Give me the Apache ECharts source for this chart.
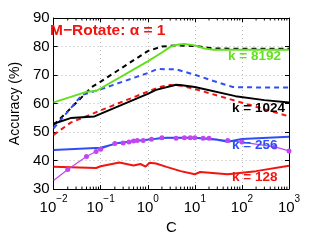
<!DOCTYPE html>
<html><head><meta charset="utf-8">
<script src="https://cdn.jsdelivr.net/npm/echarts@6/dist/echarts.min.js"></script>
<style>html,body{margin:0;padding:0;background:#fff}#c{width:319px;height:240px}</style>
</head><body><div id="c"></div>
<script>
// ---- data (C values and accuracy %) ----
const xTicks = [0.01, 0.1, 1, 10, 100, 1000];
const yTicks = [30, 40, 50, 60, 70, 80, 90];

const C_k8192 = [0.01, 0.05, 0.08, 1, 2, 3, 4.5, 6, 10, 16, 25, 100, 1000];
const acc_k8192 = [60.4, 64.1, 64.4, 74.8, 77.9, 79.9, 80.7, 80.9, 80.4, 79.3, 78.9, 78.9, 78.9];

const C_k8192d = [0.01, 0.02, 0.065, 0.1, 1, 2, 4, 10, 25, 100, 1000];
const acc_k8192d = [52.5, 57.3, 65.8, 67.7, 78.4, 80.0, 80.4, 80.2, 79.3, 79.2, 79.2];

const C_k1024 = [0.01, 0.023, 0.074, 1, 1.5, 4, 5.3, 10, 73, 300, 1000];
const acc_k1024 = [52.9, 54.9, 55.5, 63.4, 64.8, 66.6, 66.4, 65.8, 62.6, 61.2, 60.4];

const C_blueD = [0.01, 0.04, 0.1, 1, 1.6, 4, 10, 25, 64, 100, 1000];
const acc_blueD = [51.3, 63.0, 65.0, 70.7, 72.1, 72.0, 70.1, 67.9, 65.8, 65.7, 65.6];

const C_redD = [0.01, 0.023, 0.1, 1, 2, 3, 5, 10, 100, 1000];
const acc_redD = [49.0, 53.3, 57.6, 64.2, 66.0, 66.5, 66.3, 65.1, 60.3, 55.5];

const C_k256 = [0.01, 0.1, 0.24, 0.6, 2.5, 10, 30, 50, 100, 1000];
const acc_k256 = [43.7, 44.5, 46.2, 47.0, 48.0, 48.0, 47.3, 46.6, 47.6, 48.4];

const C_k128 = [0.01, 0.08, 0.1, 0.25, 0.5, 0.7, 0.9, 1.1, 1.5, 2.5, 5, 10, 13, 50, 200, 1000];
const acc_k128 = [37.8, 37.4, 38.0, 39.3, 38.3, 38.8, 37.9, 39.2, 39.0, 37.8, 36.3, 35.2, 36.0, 35.2, 36.3, 38.2];

const C_purple = [0.01, 0.02, 0.05, 0.08, 0.1, 0.2, 0.3, 0.4, 0.5, 0.6, 0.8, 1.2, 2, 4, 6, 8, 10, 15, 20, 50, 100, 500, 1000];
const acc_purple = [33.0, 36.9, 41.4, 43.2, 44.0, 46.0, 46.2, 46.5, 46.9, 47.0, 47.0, 47.5, 48.0, 47.8, 48.0, 48.0, 48.0, 47.8, 47.8, 47.0, 46.5, 44.8, 43.4];

const minorC = [];
for (let e = -2; e < 3; e++) for (let m = 2; m <= 9; m++) minorC.push(m * Math.pow(10, e));

// ---- chart ----
const zip = (xs, ys) => xs.map((x, i) => [x, ys[i]]);
const FONT = 'Liberation Sans';
const GREEN = '#62e01e', BLUE = '#2f4ff5', RED = '#f2140f', PURPLE = '#c046f2';

const chart = echarts.init(document.getElementById('c'), null, {renderer: 'canvas'});
const lineS = (name, xs, ys, color, dashed, extra) => Object.assign({
  type: 'line', name, data: zip(xs, ys), showSymbol: false, symbol: 'none',
  lineStyle: {color, width: 2, type: dashed ? [5, 4] : 'solid'},
  itemStyle: {color}, animation: false, silent: true
}, extra || {});

const supFmt = v => {
  const e = Math.round(Math.log10(v));
  return '{b|10}{s|' + (e < 0 ? '\u2212' + (-e) : e) + '}';
};

chart.setOption({
  animation: false,
  textStyle: {fontFamily: FONT},
  grid: {left: 42, right: 30, top: 18, bottom: 39},
  xAxis: [{
    type: 'log', logBase: 10, min: 0.01, max: 1000,
    name: 'C', nameLocation: 'middle', nameGap: 20,
    nameTextStyle: {fontSize: 15, color: '#000', fontFamily: FONT},
    axisLine: {lineStyle: {color: '#000', width: 1}},
    axisTick: {inside: true, length: 4, lineStyle: {color: '#000'}},
    splitLine: {show: true, lineStyle: {color: '#b8b8b8', type: [1, 3], width: 1}},
    axisLabel: {
      margin: 4, formatter: supFmt,
      rich: {
        b: {fontSize: 15, color: '#000', fontFamily: FONT, verticalAlign: 'bottom', lineHeight: 22},
        s: {fontSize: 10, color: '#000', fontFamily: FONT, verticalAlign: 'bottom', lineHeight: 10, padding: [0, 0, 11, 0]}
      }
    }
  }, {
    type: 'log', logBase: 10, min: 0.01, max: 1000, position: 'top',
    axisLine: {lineStyle: {color: '#000', width: 1}},
    axisTick: {inside: true, length: 4, lineStyle: {color: '#000'}},
    axisLabel: {show: false}, splitLine: {show: false}
  }],
  yAxis: [{
    type: 'value', min: 30, max: 90, interval: 10,
    name: 'Accuracy (%)', nameLocation: 'middle', nameGap: 26,
    nameTextStyle: {fontSize: 14, color: '#000', fontFamily: FONT},
    axisLine: {show: true, lineStyle: {color: '#000', width: 1}},
    axisTick: {show: true, inside: true, length: 4, lineStyle: {color: '#000'}},
    splitLine: {show: true, lineStyle: {color: '#b8b8b8', type: [1, 3], width: 1}},
    axisLabel: {fontSize: 15, color: '#000', margin: 4, fontFamily: FONT}
  }, {
    type: 'value', min: 30, max: 90, interval: 10, position: 'right',
    axisLine: {show: true, lineStyle: {color: '#000', width: 1}},
    axisTick: {show: true, inside: true, length: 4, lineStyle: {color: '#000'}},
    axisLabel: {show: false}, splitLine: {show: false}
  }],
  series: [
    {
      type: 'custom', silent: true, data: minorC.map(v => [v]),
      renderItem: (params, api) => {
        const v = api.value(0);
        const b = api.coord([v, 30]);
        const t = api.coord([v, 90]);
        return {type: 'group', children: [
          {type: 'line', shape: {x1: b[0], y1: b[1], x2: b[0], y2: b[1] - 2.5}, style: {stroke: '#000', lineWidth: 1}},
          {type: 'line', shape: {x1: t[0], y1: t[1], x2: t[0], y2: t[1] + 2.5}, style: {stroke: '#000', lineWidth: 1}}
        ]};
      }
    },
    lineS('k8192 dashed', C_k8192d, acc_k8192d, '#000', true),
    lineS('blue dashed', C_blueD, acc_blueD, BLUE, true),
    lineS('red dashed', C_redD, acc_redD, RED, true),
    lineS('k=1024', C_k1024, acc_k1024, '#000', false),
    lineS('k=8192', C_k8192, acc_k8192, GREEN, false),
    lineS('k=128', C_k128, acc_k128, RED, false),
    lineS('purple', C_purple, acc_purple, PURPLE, false, {
      showSymbol: true, symbol: 'circle', symbolSize: 5, lineStyle: {color: PURPLE, width: 1.2},
      data: zip(C_purple, acc_purple).map((d, i) => i === 0 ? {value: d, symbol: 'none'} : d)
    }),
    lineS('k=256', C_k256, acc_k256, BLUE, false)
  ],
  graphic: [
    {type: 'text', left: 50, top: 23, z: 100, style: {text: 'M\u2212Rotate: \u03b1 = 1', fill: RED, font: 'bold 15.5px "Liberation Sans"'}},
    {type: 'text', left: 228, top: 49, z: 100, style: {text: 'k = 8192', fill: GREEN, font: 'bold 13.5px "Liberation Sans"'}},
    {type: 'text', left: 232, top: 101, z: 100, style: {text: 'k = 1024', fill: '#000', font: 'bold 13.5px "Liberation Sans"'}},
    {type: 'text', left: 232, top: 138, z: 100, style: {text: 'k = 256', fill: BLUE, font: 'bold 13.5px "Liberation Sans"'}},
    {type: 'text', left: 232, top: 170, z: 100, style: {text: 'k = 128', fill: RED, font: 'bold 13.5px "Liberation Sans"'}}
  ]
});
</script></body></html>
